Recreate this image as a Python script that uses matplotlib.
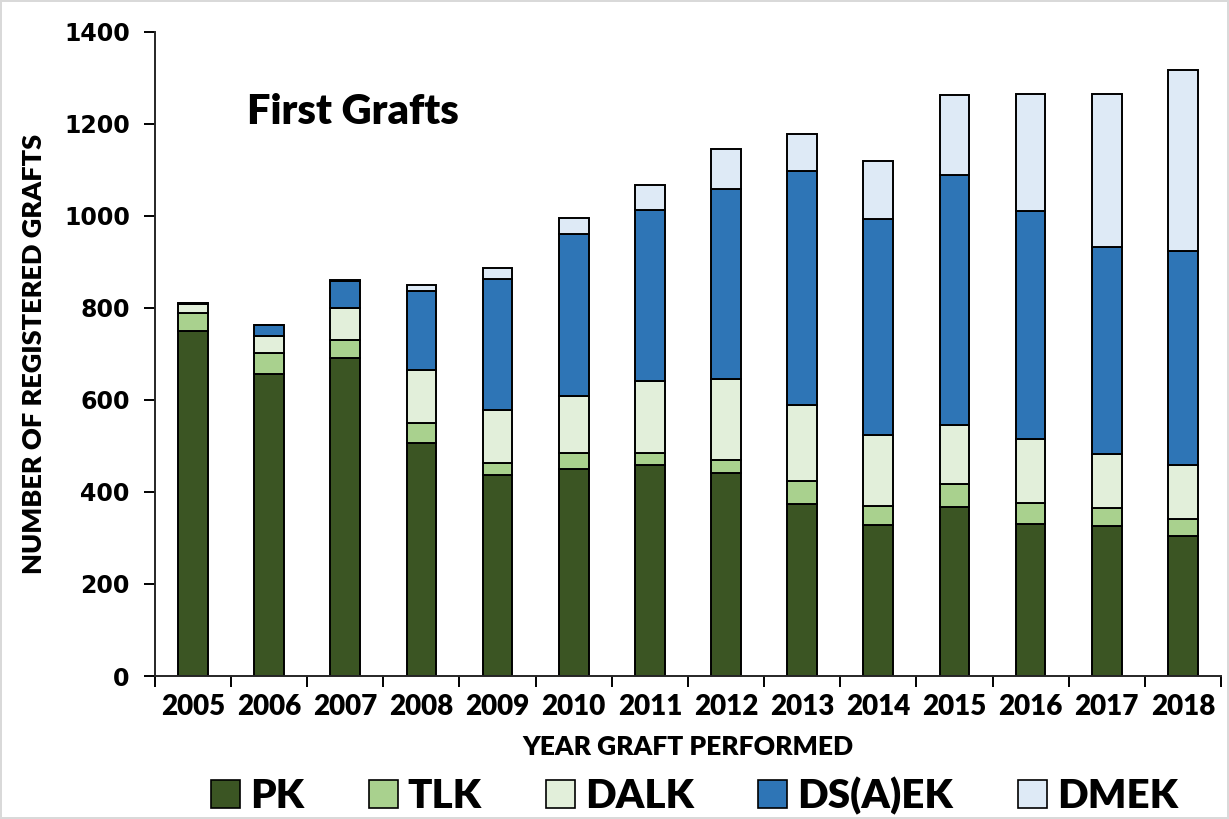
import matplotlib
matplotlib.use("Agg")
import matplotlib.pyplot as plt
import numpy as np

years = ["2005", "2006", "2007", "2008", "2009", "2010", "2011",
         "2012", "2013", "2014", "2015", "2016", "2017", "2018"]

pk = [750, 656, 691, 506, 437, 450, 459, 441, 374, 329, 368, 330, 326, 304]
tlk = [40, 46, 39, 45, 27, 35, 26, 29, 49, 40, 49, 47, 39, 37]
dalk = [18, 37, 71, 115, 115, 124, 156, 175, 165, 154, 129, 139, 118, 117]
dsaek = [2, 25, 57, 170, 284, 351, 372, 413, 509, 470, 543, 495, 449, 465]
dmek = [0, 0, 3, 13, 23, 36, 54, 88, 82, 126, 173, 254, 333, 395]

series = [("PK", pk, "#3b5523"), ("TLK", tlk, "#a9d18e"),
          ("DALK", dalk, "#e2efda"), ("DS(A)EK", dsaek, "#2e75b6"),
          ("DMEK", dmek, "#deeaf6")]

narrow = ["Lato", "DejaVu Sans"]

fig = plt.figure(figsize=(12.29, 8.19), dpi=100)
fig.patch.set_edgecolor("#d9d9d9")
fig.patch.set_linewidth(1.5)
ax = fig.add_axes([0.126, 0.1746, 0.8675, 0.7864])

x = np.arange(len(years))
bottom = np.zeros(len(years))
handles = []
for name, vals, col in series:
    b = ax.bar(x, vals, width=0.39, bottom=bottom, color=col,
               edgecolor="black", linewidth=1.4, label=name)
    handles.append(b)
    bottom += np.array(vals)

ax.set_xlim(-0.5, len(years) - 0.5)
ax.set_ylim(0, 1400)
ax.set_yticks(range(0, 1401, 200))
ax.set_yticklabels([str(v) for v in range(0, 1401, 200)],
                   fontfamily="DejaVu Sans", fontweight="bold", fontsize=17)

# ticks sit between the bars, labels in the middle
ax.set_xticks(np.arange(-0.5, len(years), 1.0))
ax.set_xticklabels([])
ax.set_xticks(x, minor=True)
ax.set_xticklabels(years, minor=True, fontfamily=narrow,
                   fontweight="heavy", fontsize=20)
ax.tick_params(axis="x", which="minor", length=0, pad=13)
ax.tick_params(axis="x", which="major", length=8, width=1.4, direction="out")
ax.tick_params(axis="y", length=8, width=1.4, direction="out", pad=10)

for s in ["top", "right"]:
    ax.spines[s].set_visible(False)
for s in ["left", "bottom"]:
    ax.spines[s].set_linewidth(1.4)
    ax.spines[s].set_color("#262626")

ax.set_xlabel("YEAR GRAFT PERFORMED", fontfamily=narrow, fontweight="heavy",
              fontsize=19, labelpad=11)
ax.set_ylabel("NUMBER OF REGISTERED GRAFTS", fontfamily=narrow,
              fontweight="heavy", fontsize=19.5, labelpad=13)

ax.text(0.086, 0.876, "First Grafts", transform=ax.transAxes,
        fontfamily=narrow, fontweight="heavy", fontsize=30,
        va="center", ha="left")

leg = fig.legend(handles=handles, loc="center", bbox_to_anchor=(0.565, 0.028),
                 ncol=5, frameon=False, handlelength=0.72, handleheight=0.72,
                 columnspacing=1.6, handletextpad=0.25,
                 prop={"family": narrow, "weight": "heavy", "size": 29})
for p in leg.get_patches():
    p.set_linewidth(1.2)

fig.savefig("out.png", dpi=100)
